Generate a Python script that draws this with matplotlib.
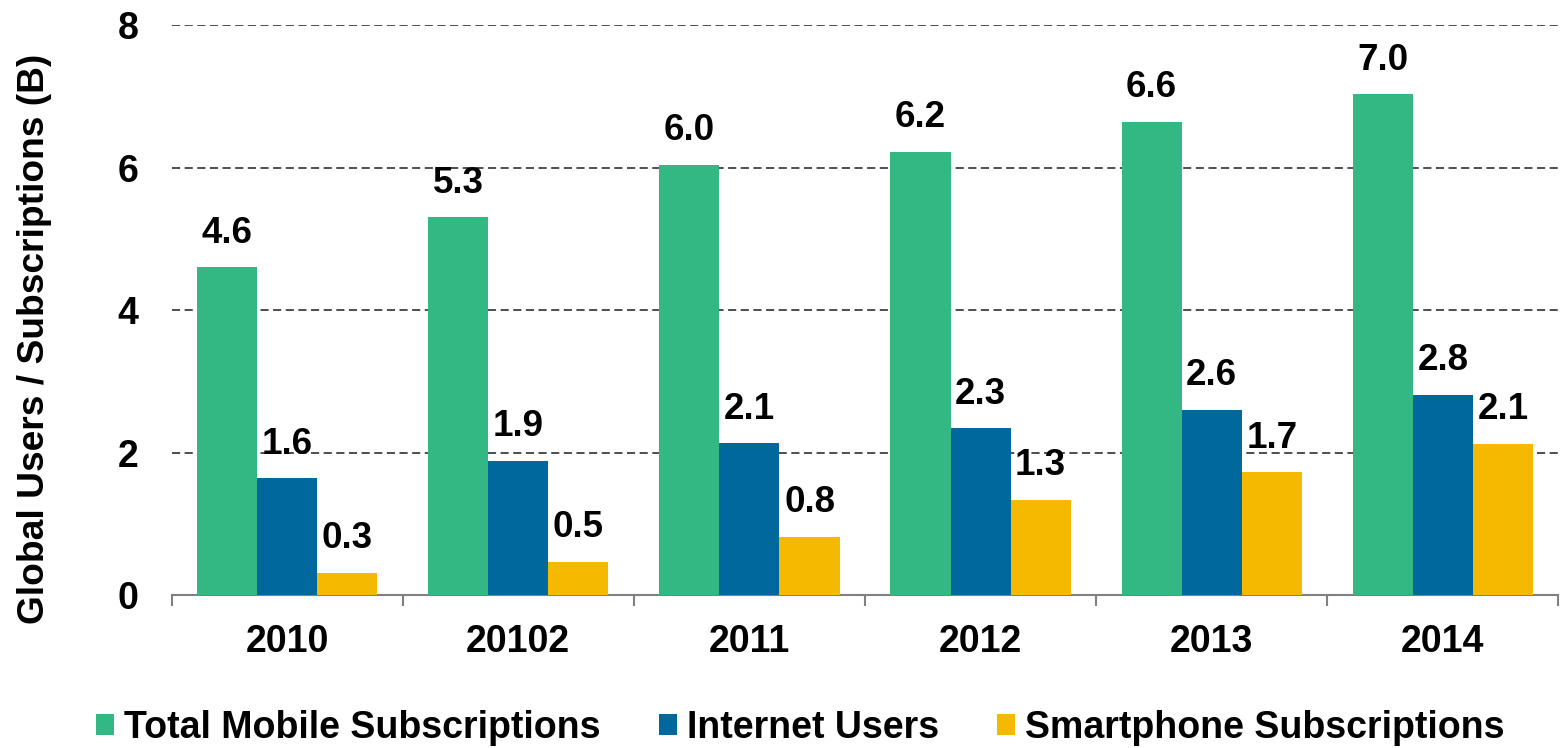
import matplotlib
matplotlib.use("Agg")
import matplotlib.pyplot as plt
from matplotlib.patches import Patch
import numpy as np

plt.rcParams['font.family'] = ['Liberation Sans', 'DejaVu Sans']
plt.rcParams['font.weight'] = 'bold'

years = ["2010", "20102", "2011", "2012", "2013", "2014"]
total_mobile = [4.6, 5.3, 6.04, 6.22, 6.64, 7.03]
internet_users = [1.64, 1.88, 2.13, 2.34, 2.6, 2.81]
smartphone = [0.31, 0.47, 0.82, 1.34, 1.72, 2.12]

series_names = ["Total Mobile Subscriptions", "Internet Users", "Smartphone Subscriptions"]
colors = ["#33B884", "#00689D", "#F5BA00"]


def main():
    fig = plt.figure(figsize=(15.6, 7.48), dpi=100)
    ax = fig.add_axes([0.110, 0.2045, 0.889, 0.762])

    x = np.arange(len(years))
    w = 0.26
    all_series = [total_mobile, internet_users, smartphone]
    for i, (vals, col) in enumerate(zip(all_series, colors)):
        xs = x + (i - 1) * w
        ax.bar(xs, vals, width=w, color=col, zorder=3)
        for xx, v in zip(xs, vals):
            ax.annotate("%.1f" % v, (xx, v), xytext=(0, 12), textcoords="offset points",
                        ha="center", va="bottom", fontsize=26.5, fontweight="bold", zorder=4)

    ax.set_xlim(-0.5, len(years) - 0.5)
    ax.set_ylim(0, 8)
    ax.set_yticks([0, 2, 4, 6, 8])
    ax.yaxis.grid(True, linestyle=(0, (4.5, 2.5)), color="#404040", linewidth=1.3, zorder=0)
    ax.tick_params(axis="y", length=0, pad=24, labelsize=27)

    # group boundary ticks, labels centred under groups
    ax.set_xticks(np.arange(len(years) + 1) - 0.5)
    ax.set_xticklabels([])
    ax.set_xticks(x, minor=True)
    ax.set_xticklabels(years, minor=True)
    ax.tick_params(axis="x", which="major", length=8, width=1.5, color="#808080", direction="out")
    ax.tick_params(axis="x", which="minor", length=0, pad=21, labelsize=27)

    for s in ["top", "right", "left"]:
        ax.spines[s].set_visible(False)
    ax.spines["bottom"].set_color("#808080")
    ax.spines["bottom"].set_linewidth(1.5)

    ax.set_ylabel("Global Users / Subscriptions (B)", fontsize=26.7, fontweight="bold")
    ax.yaxis.set_label_coords(-0.086, 0.449)

    handles = [Patch(facecolor=c, edgecolor="none") for c in colors]
    fig.legend(handles, series_names, loc="center", bbox_to_anchor=(0.513, 0.027),
               ncol=3, frameon=False, fontsize=27, handlelength=0.48, handleheight=0.5,
               handletextpad=0.27, columnspacing=1.55, borderpad=0, borderaxespad=0)

    fig.savefig("out.png", dpi=100)


if __name__ == "__main__":
    main()
